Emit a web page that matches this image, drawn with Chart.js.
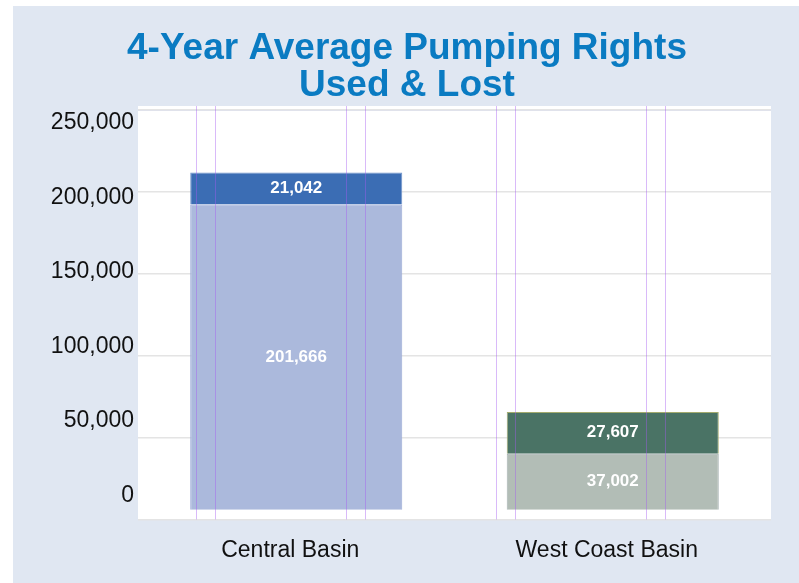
<!DOCTYPE html>
<html lang="en">

<head>
    <meta charset="UTF-8">
    <title>4-Year Average Pumping Rights Used & Lost</title>
    <script src="https://cdn.jsdelivr.net/npm/chart.js"></script>
    <style>
        body {
            margin: 0;
            background: #fff;
            overflow: hidden;
        }

        .panel {
            position: absolute;
            left: 13px;
            top: 6px;
            width: 786px;
            height: 577px;
            overflow: hidden;
            background: #e0e7f2;
        }

        .panel canvas {
            display: block;
        }
    </style>
</head>

<body>
    <div class="panel">
        <canvas id="rightsChart" width="862" height="577"></canvas>
    </div>
    <script>
        const basins = ['Central Basin', 'West Coast Basin'];
        const usedRights = [201666, 37002];
        const lostRights = [21042, 27607];
        const yTicks = [0, 50000, 100000, 150000, 200000, 250000];

        Chart.defaults.font.family = "'Liberation Sans', Arial, sans-serif";

        // white plot background, slightly taller than the chart area
        const plotBackground = {
            id: 'plotBackground',
            beforeDraw(chart) {
                const { ctx, chartArea: a } = chart;
                ctx.save();
                ctx.fillStyle = '#ffffff';
                ctx.fillRect(a.left, a.top - 4, a.right - a.left, a.bottom - a.top + 4);
                ctx.strokeStyle = '#dde0f3';
                ctx.lineWidth = 2;
                ctx.beginPath();
                ctx.moveTo(a.left, a.top);
                ctx.lineTo(a.right, a.top);
                ctx.stroke();
                ctx.restore();
            }
        };

        // the thin purple verticals that cross the plot (pairs every 150px)
        const purpleLines = {
            id: 'purpleLines',
            afterDatasetsDraw(chart) {
                const { ctx, chartArea: a } = chart;
                ctx.save();
                ctx.strokeStyle = 'rgba(165, 90, 240, 0.42)';
                ctx.lineWidth = 1;
                ctx.beginPath();
                for (let k = 0; k < 4; k++) {
                    [57.7, 77].forEach(off => {
                        const x = Math.round(a.left + off + 150 * k) + 0.5;
                        ctx.moveTo(x, a.top - 4);
                        ctx.lineTo(x, a.bottom);
                    });
                }
                ctx.stroke();
                ctx.restore();
            }
        };

        // value labels in the middle of each stacked segment
        const segmentLabels = {
            id: 'segmentLabels',
            afterDatasetsDraw(chart) {
                const ctx = chart.ctx;
                ctx.save();
                ctx.font = "bold 17px 'Liberation Sans', Arial, sans-serif";
                ctx.fillStyle = '#ffffff';
                ctx.textAlign = 'center';
                ctx.textBaseline = 'middle';
                chart.data.datasets.forEach((ds, i) => {
                    chart.getDatasetMeta(i).data.forEach((bar, j) => {
                        const { x, y, base } = bar.getProps(['x', 'y', 'base'], true);
                        ctx.fillText(ds.data[j].toLocaleString('en-US'), x, (y + base) / 2);
                    });
                });
                ctx.restore();
            }
        };

        new Chart(document.getElementById('rightsChart'), {
            type: 'bar',
            data: {
                labels: basins,
                datasets: [{
                    label: 'Used',
                    data: usedRights,
                    backgroundColor: ['#abb9dc', '#b2bdb6'],
                    borderColor: ['#98a7d6', '#a6b1b2'],
                    borderWidth: 1,
                    xAxisID: 'x',
                    yAxisID: 'y'
                }, {
                    label: 'Lost',
                    data: lostRights,
                    backgroundColor: ['#3b6db4', '#4a7365'],
                    borderColor: ['#6f92c9', '#a3ab6e'],
                    borderWidth: 1,
                    xAxisID: 'x',
                    yAxisID: 'y'
                }]
            },
            options: {
                responsive: false,
                animation: false,
                barPercentage: 0.67,
                categoryPercentage: 1,
                layout: { padding: { left: 30, right: 104, top: 0, bottom: 2 } },
                plugins: {
                    legend: { display: false },
                    tooltip: { enabled: false },
                    title: {
                        display: true,
                        text: ['4-Year Average Pumping Rights', 'Used & Lost'],
                        color: '#0a7bc2',
                        font: { size: 37, weight: 'bold', lineHeight: 1.0 },
                        padding: { top: 24, bottom: 6 }
                    }
                },
                scales: {
                    x: {
                        stacked: true,
                        grid: { display: false, drawTicks: false },
                        border: { display: false },
                        ticks: { color: '#111', font: { size: 23 }, padding: 17, labelOffset: -6 }
                    },
                    y: {
                        stacked: true,
                        bounds: 'data',
                        min: -6400,
                        max: 264000,
                        ticks: { display: false, stepSize: 50000, includeBounds: false },
                        grid: { color: '#e4e4e4', lineWidth: 1.5, drawTicks: false },
                        border: { display: false },
                        afterFit(scale) { scale.width = 0; }
                    },
                    yl: {
                        position: 'left',
                        bounds: 'data',
                        min: -16100,
                        max: 258500,
                        afterBuildTicks(scale) { scale.ticks = yTicks.map(v => ({ value: v })); },
                        ticks: {
                            color: '#111',
                            font: { size: 23 },
                            padding: 4,
                            callback: v => v.toLocaleString('en-US')
                        },
                        grid: { display: false, drawTicks: false },
                        border: { display: false },
                        afterFit(scale) { scale.width = 95; }
                    }
                }
            },
            plugins: [plotBackground, purpleLines, segmentLabels]
        });
    </script>
</body>

</html>
